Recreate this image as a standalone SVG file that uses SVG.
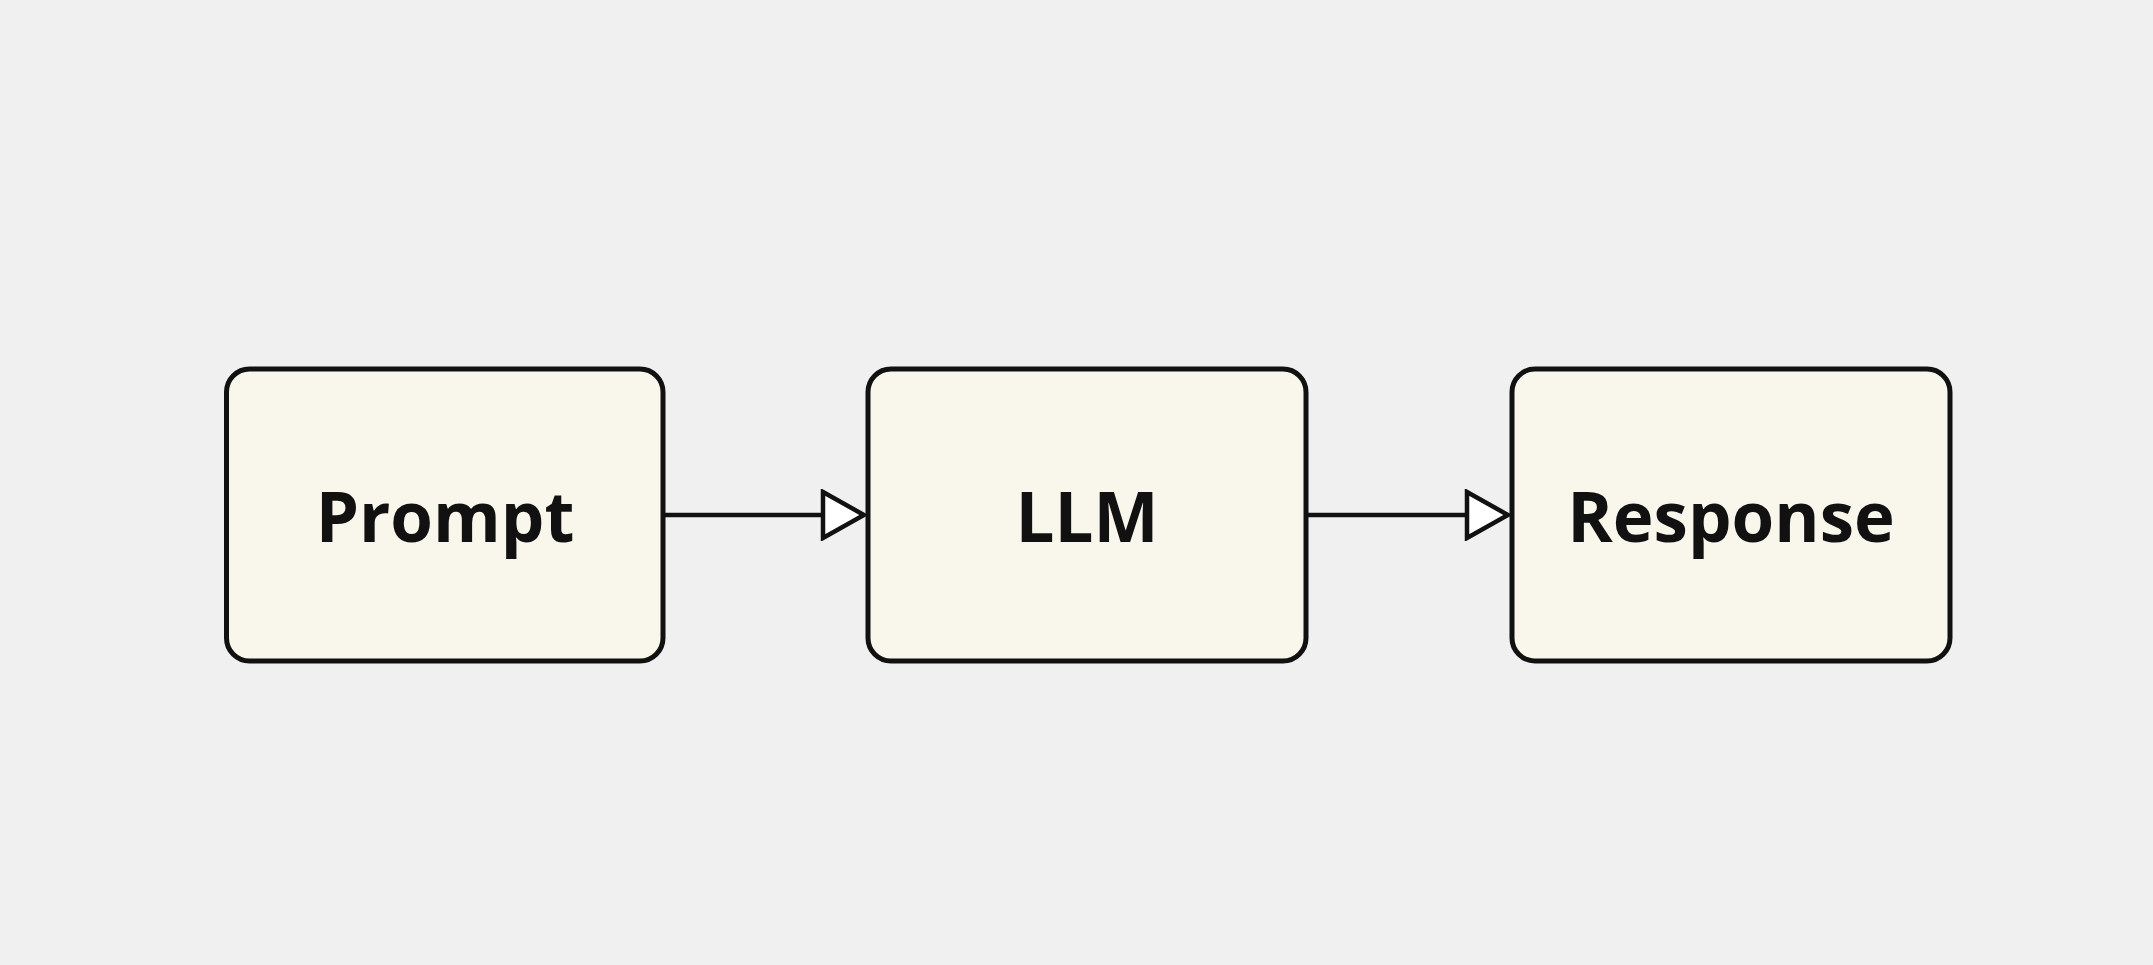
<svg xmlns="http://www.w3.org/2000/svg" width="2153" height="965" viewBox="0 0 2153 965">
<style>
.node rect{fill:#f9f6ec;stroke:#111;stroke-width:5}
.node text{font-family:"Open Sans","Noto Sans",sans-serif;font-weight:700;font-size:69px;fill:#111;text-anchor:middle}
.edge{stroke:#111;stroke-width:4.5;fill:none}
</style>
<defs>
<marker id="arr" viewBox="0 0 48 52" refX="44" refY="26" markerWidth="48" markerHeight="52" markerUnits="userSpaceOnUse" orient="auto">
<path d="M3,3 L44,26 L3,49 Z" fill="#ffffff" stroke="#111" stroke-width="4.5"/>
</marker>
</defs>
<rect width="2153" height="965" fill="#f0f0f0"/>
<g id="connectors">
<line class="edge" x1="663" y1="515" x2="864" y2="515" marker-end="url(#arr)"/>
<line class="edge" x1="1306" y1="515" x2="1508" y2="515" marker-end="url(#arr)"/>
</g>
<g id="prompt" class="node">
<rect x="226.5" y="369" width="436.5" height="292" rx="23"/>
<text x="445" y="542">Prompt</text>
</g>
<g id="llm" class="node">
<rect x="868" y="369" width="438" height="292" rx="23"/>
<text x="1087" y="542">LLM</text>
</g>
<g id="response" class="node">
<rect x="1512" y="369" width="438" height="292" rx="23"/>
<text x="1731" y="542">Response</text>
</g>
</svg>
